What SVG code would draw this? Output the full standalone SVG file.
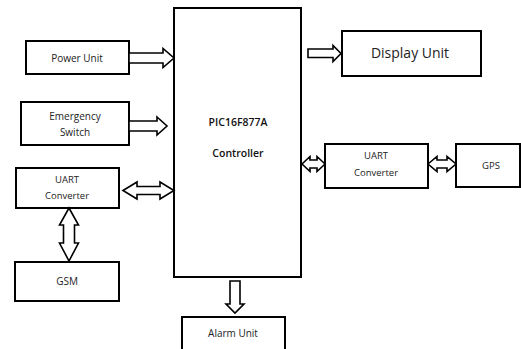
<svg xmlns="http://www.w3.org/2000/svg" width="521" height="349" viewBox="0 0 521 349">
<style>
.box{fill:#fff;stroke:#000;stroke-width:2}
.arr{fill:#fff;stroke:#000;stroke-width:1.6;stroke-linejoin:miter}
text{font-family:"Open Sans","Liberation Sans",sans-serif;fill:#222;text-anchor:middle}
.s{font-size:9.5px}
.m{font-size:10px}
.l{font-size:14px}
.c{font-size:10.5px;font-weight:600;fill:#111}
</style>
<rect width="521" height="349" fill="#fff"/>
<g id="controller"><rect class="box" x="174" y="8" width="127" height="269" stroke-width="1.6"/>
<text class="c" x="238" y="126">PIC16F877A</text><text class="c" x="238" y="157">Controller</text></g>
<g id="power"><rect class="box" x="26" y="41" width="103" height="33"/><text class="m" x="77" y="61.5">Power Unit</text></g>
<g id="emergency"><rect class="box" x="21" y="102" width="108" height="43"/><text class="m" x="75" y="120">Emergency</text><text class="m" x="75" y="136">Switch</text></g>
<g id="uart-left"><rect class="box" x="16" y="168" width="103" height="40"/><text class="s" x="67" y="183">UART</text><text class="s" x="67" y="199">Converter</text></g>
<g id="gsm"><rect class="box" x="15" y="262" width="104" height="39"/><text class="m" x="67" y="285">GSM</text></g>
<g id="display"><rect class="box" x="342" y="31" width="139" height="45"/><text class="l" x="410" y="58">Display Unit</text></g>
<g id="uart-right"><rect class="box" x="325" y="144" width="103" height="44"/><text class="s" x="376" y="159">UART</text><text class="s" x="376" y="176">Converter</text></g>
<g id="gps"><rect class="box" x="456" y="144" width="64" height="43"/><text class="s" x="491" y="169">GPS</text></g>
<g id="alarm"><rect class="box" x="182" y="317" width="103" height="40"/><text class="m" x="233" y="337">Alarm Unit</text></g>
<g id="connectors">
<polygon class="arr" points="129,53 163,53 163,48.5 174,58 163,67.5 163,63 129,63"/>
<polygon class="arr" points="129,121 157,121 157,117 167,126 157,135 157,131 129,131"/>
<polygon class="arr" points="308,49 333,49 333,45.5 341,53.5 333,61.5 333,57.5 308,57.5"/>
<polygon class="arr" points="123,190.5 137,182 137,186.5 160,186.5 160,182 174,190.5 160,199 160,194.5 137,194.5 137,199"/>
<polygon class="arr" points="69,208 78.5,225 74.5,225 74.5,243 78.5,243 69,261 59.5,243 63.5,243 63.5,225 59.5,225"/>
<polygon class="arr" points="302,164 310,156.5 310,160 317,160 317,156.5 325,164 317,171.5 317,168 310,168 310,171.5"/>
<polygon class="arr" points="428,164 437,156.5 437,160 447,160 447,156.5 456,164 447,171.5 447,168 437,168 437,171.5"/>
<polygon class="arr" points="230,281 240,281 240,304 244,304 235,313 226,304 230,304"/>
</g>
</svg>
